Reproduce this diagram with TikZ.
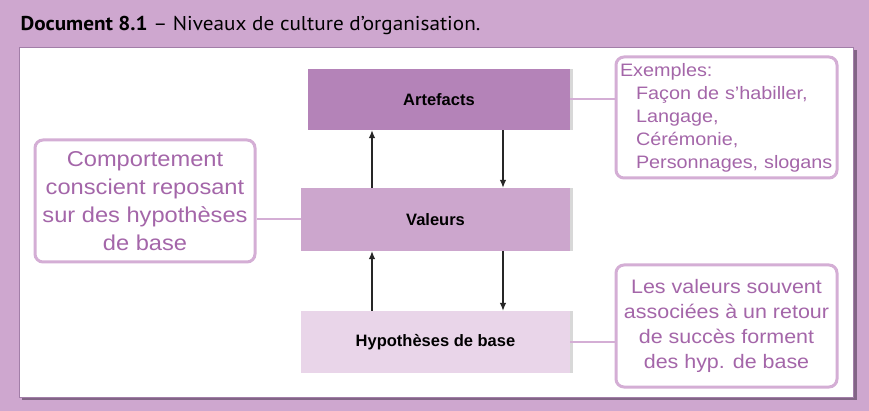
\documentclass[tikz,border=0pt]{standalone}
\usepackage{fontspec}
\setmainfont{Liberation Sans}
\newfontfamily\titlefont[FakeStretch=1.06]{PT Sans}
\newfontfamily\notefont[FakeStretch=1.1]{Liberation Sans}
\usetikzlibrary{arrows.meta, shadows}
\definecolor{mauve}{HTML}{CEA7CF}
\definecolor{plum}{HTML}{B483B8}
\definecolor{lilac}{HTML}{CCA6CD}
\definecolor{blush}{HTML}{E9D5E9}
\definecolor{frame}{HTML}{A27EA8}
\definecolor{note}{HTML}{A466A9}
\definecolor{edge}{HTML}{D4AED5}

\begin{document}
\begin{tikzpicture}[x=1pt, y=-1pt,
  lv/.style={inner sep=0pt, font=\fontsize{16.5}{18}\selectfont\bfseries,
             drop shadow={shadow xshift=2.5pt, shadow yshift=0pt, fill=black!30}},
  nt/.style={draw=edge, fill=white, line width=3pt, rounded corners=8pt,
             text=note, align=center, inner sep=4pt},
  ln/.style={draw=edge, line width=2pt},
  ar/.style={-{Latex[length=8pt, width=6.5pt]}, draw=black!85, line width=1.1pt}]

\fill[mauve] (0,0) rectangle (869,411);
\useasboundingbox (0,0) rectangle (869,411);
\node[anchor=base west, font=\titlefont\fontsize{20}{22}\selectfont] (ttl) at (17,31)
  {\textbf{Document 8.1} – Niveaux de culture d’organisation.};
\fill[frame!80!black] (22,50) rectangle (856.5,400);
\draw[frame, fill=white] (19,47) rectangle (853,397);

\node[lv, fill=plum, minimum width=262pt, minimum height=61pt] (art) at (439,99.5) {Artefacts};
\node[lv, fill=lilac, minimum width=269pt, minimum height=63pt] (val) at (435.5,219.5) {Valeurs};
\node[lv, fill=blush, minimum width=269pt, minimum height=62pt] (hyp) at (435.5,342) {Hypothèses de base};

\node[nt, align=left, text width=213pt, minimum height=121pt,
      font=\notefont\fontsize{18}{23}\selectfont] (ex) at (726.5,117.5)
  {Exemples:\\
   \hspace*{16pt}Façon de s’habiller,\\
   \hspace*{16pt}Langage,\\
   \hspace*{16pt}Cérémonie,\\
   \hspace*{16pt}Personnages, slogans};
\node[nt, minimum width=220pt, minimum height=122pt,
      font=\notefont\fontsize{21.5}{28}\selectfont] (cb) at (145,201)
  {Comportement\\conscient reposant\\sur des hypothèses\\de base};
\node[nt, minimum width=221pt, minimum height=122pt,
      font=\notefont\fontsize{19.5}{25}\selectfont] (hb) at (726.5,326)
  {Les valeurs souvent\\associées à un retour\\de succès forment\\des hyp. de base};

\coordinate (upx) at (372,0);
\coordinate (dnx) at (503,0);
\draw[ar] (upx |- val.north) -- (upx |- art.south);
\draw[ar] (upx |- hyp.north) -- (upx |- val.south);
\draw[ar] (dnx |- art.south) -- (dnx |- val.north);
\draw[ar] (dnx |- val.south) -- (dnx |- hyp.north);

\draw[ln] (art.east) -- (art.east -| ex.west);
\draw[ln] (val.west) -- (val.west -| cb.east);
\draw[ln] (hyp.east) -- (hyp.east -| hb.west);
\end{tikzpicture}
\end{document}
